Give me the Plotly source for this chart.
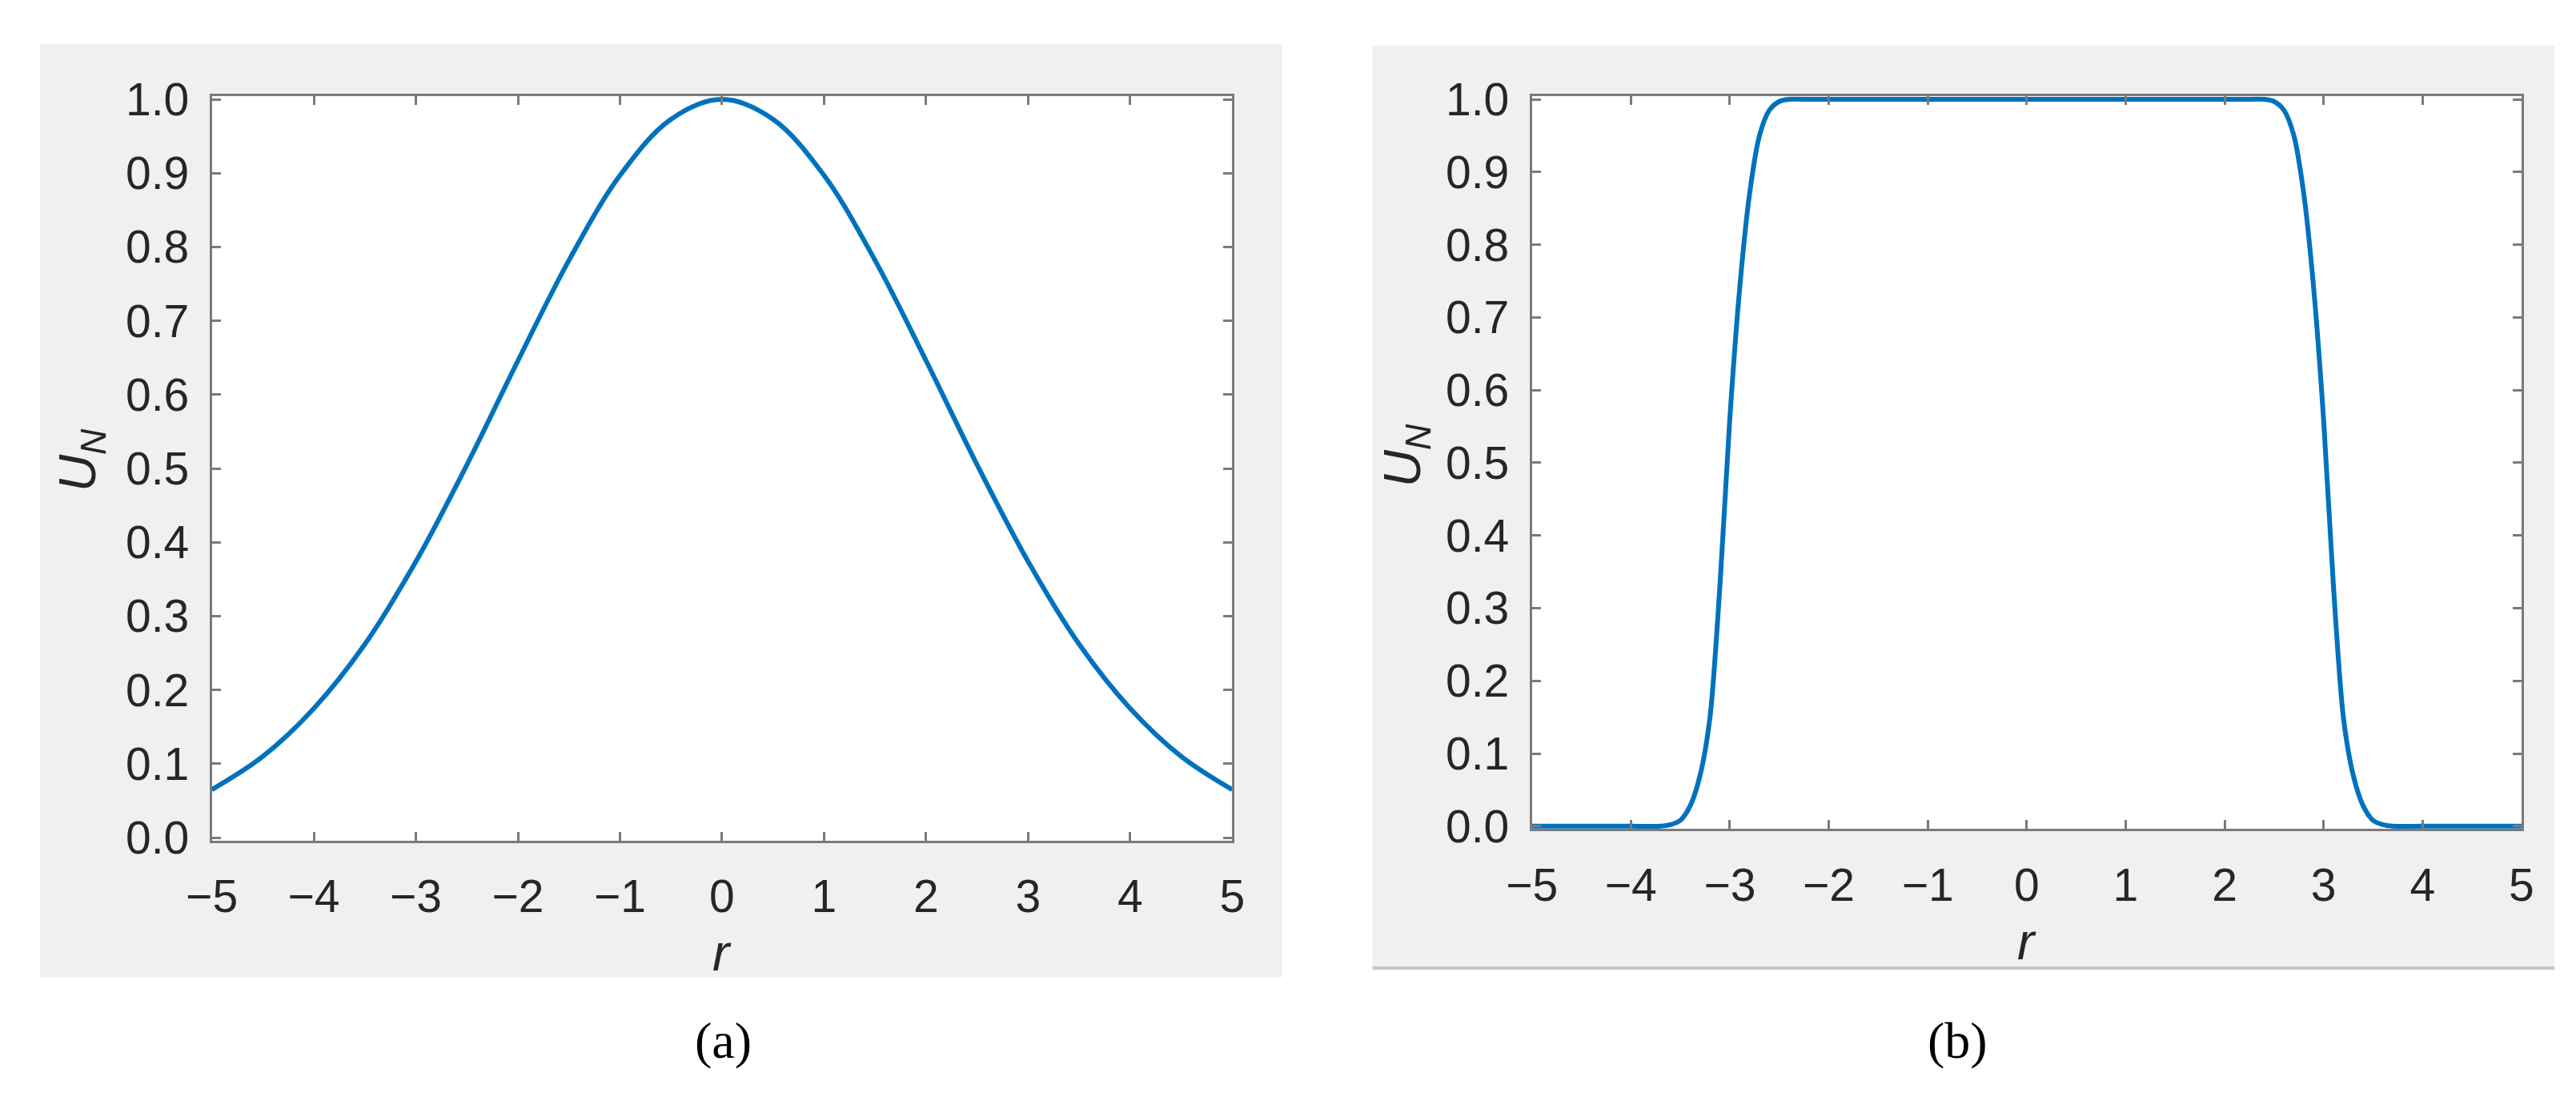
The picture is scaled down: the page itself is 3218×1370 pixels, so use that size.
import plotly.graph_objects as go

# values
R_A = [-5, -4.5, -4, -3.5, -3, -2.5, -2, -1.5, -1, -0.5, 0,
       0.5, 1, 1.5, 2, 2.5, 3, 3.5, 4, 4.5, 5]
U_A = [0.065, 0.110, 0.175, 0.262, 0.374, 0.505, 0.646, 0.782, 0.897, 0.973, 1.0,
       0.973, 0.897, 0.782, 0.646, 0.505, 0.374, 0.262, 0.175, 0.110, 0.065]

R_B = [-5, -4.5, -4, -3.7, -3.6, -3.5, -3.4, -3.3, -3.2, -3.1, -3.0, -2.9, -2.8,
       -2.7, -2.6, -2.5, -2.4, -2.2, -2, -1, 0,
       1, 2, 2.2, 2.4, 2.5, 2.6, 2.7, 2.8, 2.9, 3.0, 3.1, 3.2, 3.3, 3.4, 3.5,
       3.6, 3.7, 4, 4.5, 5]
U_B = [0, 0, 0, 0, 0.002, 0.008, 0.028, 0.07, 0.15, 0.33, 0.56, 0.74, 0.87,
       0.95, 0.985, 0.997, 1, 1, 1, 1, 1,
       1, 1, 1, 1, 0.997, 0.985, 0.95, 0.87, 0.74, 0.56, 0.33, 0.15, 0.07, 0.028, 0.008,
       0.002, 0, 0, 0, 0]

X_TICKS = [-5, -4, -3, -2, -1, 0, 1, 2, 3, 4, 5]
X_TICK_TEXT = ['\u22125', '\u22124', '\u22123', '\u22122', '\u22121', '0', '1', '2', '3', '4', '5']
Y_TICKS = [0.0, 0.1, 0.2, 0.3, 0.4, 0.5, 0.6, 0.7, 0.8, 0.9, 1.0]
CAPTIONS = ['(a)', '(b)']

W, H = 3218, 1370
BLUE = '#0072bd'
AXIS_GRAY = '#7a7a7a'
PANEL_GRAY = '#f0f0f0'
SANS = 'Liberation Sans, Arial, sans-serif'
SERIF = 'Liberation Serif, Times New Roman, serif'


def px(x):
    return x / W


def py(y):
    return 1 - y / H


fig = go.Figure()

fig.add_trace(go.Scatter(x=R_A, y=U_A, mode='lines', xaxis='x', yaxis='y',
                         line=dict(color=BLUE, width=6, shape='spline', smoothing=1.0),
                         showlegend=False, hoverinfo='skip'))
fig.add_trace(go.Scatter(x=R_B, y=U_B, mode='lines', xaxis='x2', yaxis='y2',
                         line=dict(color=BLUE, width=6, shape='spline', smoothing=0.8),
                         showlegend=False, hoverinfo='skip'))

common_x = dict(range=[-5, 5], tickvals=X_TICKS, ticktext=X_TICK_TEXT,
                ticks='inside', ticklen=11, tickwidth=3, tickcolor=AXIS_GRAY,
                showline=True, linewidth=3, linecolor=AXIS_GRAY, mirror='ticks',
                showgrid=False, zeroline=False, ticklabelstandoff=18,
                tickfont=dict(family=SANS, size=57, color='#262626'))
common_y = dict(range=[-0.004, 1.004], tickvals=Y_TICKS, tickformat='.1f',
                ticks='inside', ticklen=11, tickwidth=3, tickcolor=AXIS_GRAY,
                showline=True, linewidth=3, linecolor=AXIS_GRAY, mirror='ticks',
                showgrid=False, zeroline=False, ticklabelstandoff=14,
                tickfont=dict(family=SANS, size=57, color='#262626'))

# panel geometry in pixels
A = dict(l=228, r=1522, t=88, b=1057)
B = dict(l=1902, r=3157, t=88, b=1042)

fig.update_layout(
    width=W, height=H,
    margin=dict(l=0, r=0, t=0, b=0),
    paper_bgcolor='white', plot_bgcolor='white',
    xaxis=dict(domain=[px(A['l']), px(A['r'])], anchor='y', **common_x),
    yaxis=dict(domain=[py(A['b']), py(A['t'])], anchor='x', **common_y),
    xaxis2=dict(domain=[px(B['l']), px(B['r'])], anchor='y2', **common_x),
    yaxis2=dict(domain=[py(B['b']), py(B['t'])], anchor='x2', **common_y),
)

# grey figure backgrounds (MATLAB style) with white axes areas on top
shapes = [
    dict(type='rect', xref='paper', yref='paper', layer='below',
         x0=px(10), x1=px(1585), y0=py(1235), y1=py(20),
         fillcolor=PANEL_GRAY, line=dict(width=0)),
    dict(type='rect', xref='paper', yref='paper', layer='below',
         x0=px(1700), x1=px(3199), y0=py(1223), y1=py(22),
         fillcolor=PANEL_GRAY, line=dict(width=0)),
    dict(type='line', xref='paper', yref='paper',
         x0=px(1700), x1=px(3199), y0=py(1223), y1=py(1223),
         line=dict(color='#c4c4c4', width=4)),
]
for P in (A, B):
    shapes.append(dict(type='rect', xref='paper', yref='paper', layer='below',
                       x0=px(P['l']), x1=px(P['r']), y0=py(P['b']), y1=py(P['t']),
                       fillcolor='white', line=dict(width=0)))
fig.update_layout(shapes=shapes)

label_font = dict(family=SANS, size=64, color='#262626')
annotations = [
    # y-axis titles
    dict(text='<i>U</i><sub><i>N</i></sub>', x=px(62), y=py(562), xref='paper', yref='paper',
         textangle=-90, showarrow=False, font=label_font, xanchor='center', yanchor='middle'),
    dict(text='<i>U</i><sub><i>N</i></sub>', x=px(1742), y=py(556), xref='paper', yref='paper',
         textangle=-90, showarrow=False, font=label_font, xanchor='center', yanchor='middle'),
    # x-axis titles
    dict(text='<i>r</i>', x=px(875), y=py(1203), xref='paper', yref='paper',
         showarrow=False, font=label_font, xanchor='center', yanchor='middle'),
    dict(text='<i>r</i>', x=px(2530), y=py(1189), xref='paper', yref='paper',
         showarrow=False, font=label_font, xanchor='center', yanchor='middle'),
    # captions
    dict(text=CAPTIONS[0], x=px(877), y=py(1317), xref='paper', yref='paper',
         showarrow=False, xanchor='center', yanchor='middle',
         font=dict(family=SERIF, size=64, color='black')),
    dict(text=CAPTIONS[1], x=px(2442), y=py(1317), xref='paper', yref='paper',
         showarrow=False, xanchor='center', yanchor='middle',
         font=dict(family=SERIF, size=64, color='black')),
]
fig.update_layout(annotations=annotations)

fig.write_html("out.html")
